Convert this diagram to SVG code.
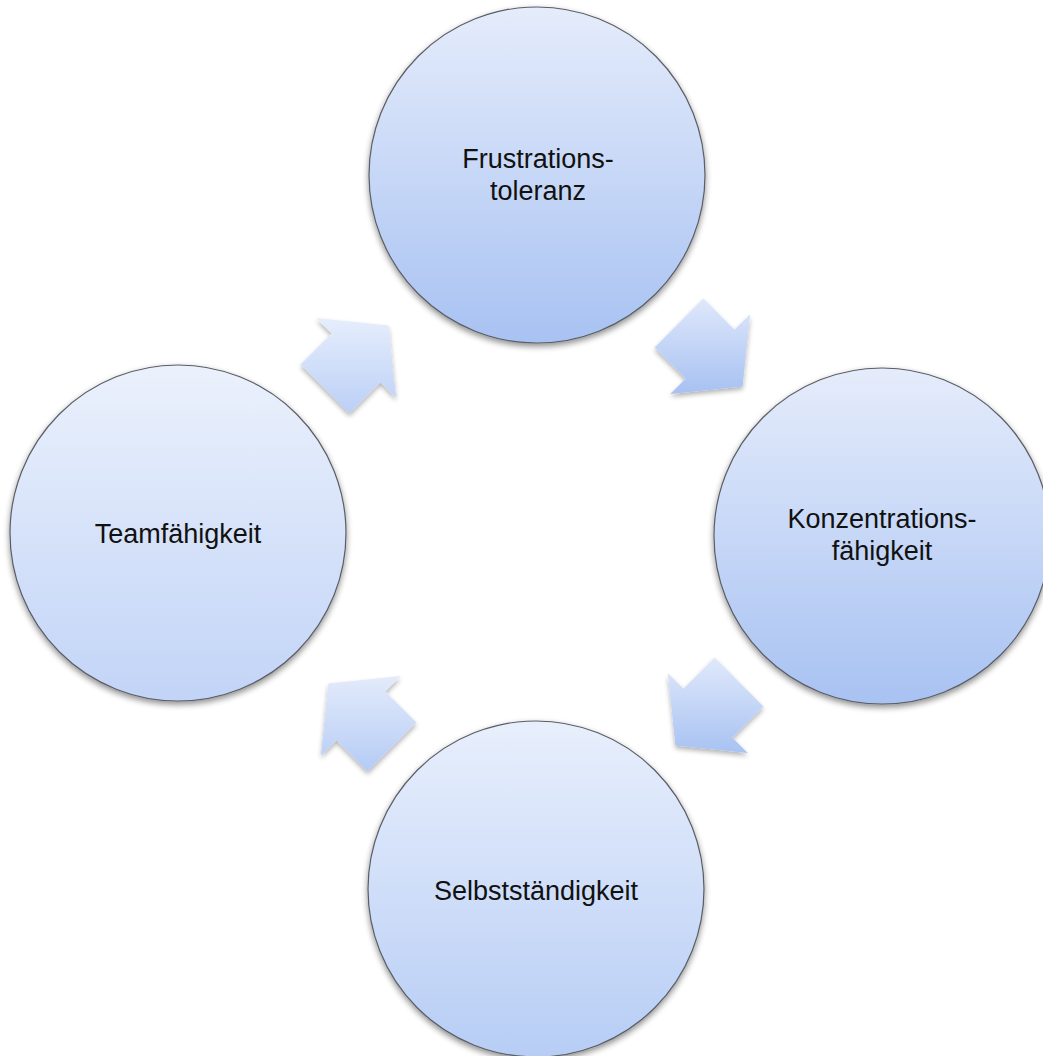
<svg xmlns="http://www.w3.org/2000/svg" width="1043" height="1056" viewBox="0 0 1043 1056">
<defs>
<style>
.node circle{stroke:#5a5e66;stroke-width:1.2;filter:url(#sh)}
.arrow{filter:url(#sha)}
.lbl{font-family:"Liberation Sans",Arial,sans-serif;font-size:27px;fill:#111;text-anchor:middle}
</style>
<filter id="sh" x="-20%" y="-20%" width="140%" height="140%">
<feGaussianBlur in="SourceAlpha" stdDeviation="3"/>
<feOffset dy="3" result="b"/>
<feComponentTransfer><feFuncA type="linear" slope="0.45"/></feComponentTransfer>
<feMerge><feMergeNode/><feMergeNode in="SourceGraphic"/></feMerge>
</filter>
<filter id="sha" x="-20%" y="-20%" width="140%" height="140%">
<feGaussianBlur in="SourceAlpha" stdDeviation="2.5"/>
<feOffset dy="2.5" result="b"/>
<feComponentTransfer><feFuncA type="linear" slope="0.3"/></feComponentTransfer>
<feMerge><feMergeNode/><feMergeNode in="SourceGraphic"/></feMerge>
</filter>
<linearGradient id="gDark" x1="0" y1="0" x2="0" y2="1"><stop offset="0" stop-color="#e5ecfb"/><stop offset="1" stop-color="#a8c2f2"/></linearGradient>
<linearGradient id="gLight" x1="0" y1="0" x2="0" y2="1"><stop offset="0" stop-color="#ebf1fc"/><stop offset="1" stop-color="#c2d4f7"/></linearGradient>
<linearGradient id="gMid" x1="0" y1="0" x2="0" y2="1"><stop offset="0" stop-color="#e8effc"/><stop offset="1" stop-color="#b7cdf5"/></linearGradient>
<linearGradient id="aA" x1="0" y1="0" x2="0" y2="1"><stop offset="0" stop-color="#e6eefc"/><stop offset="1" stop-color="#bbcff6"/></linearGradient>
<linearGradient id="aB" x1="0" y1="0" x2="0" y2="1"><stop offset="0" stop-color="#dfe8fb"/><stop offset="1" stop-color="#a7c1f2"/></linearGradient>
<linearGradient id="aC" x1="0" y1="0" x2="0" y2="1"><stop offset="0" stop-color="#e0e9fb"/><stop offset="1" stop-color="#a8c2f2"/></linearGradient>
<linearGradient id="aD" x1="0" y1="0" x2="0" y2="1"><stop offset="0" stop-color="#e3ebfb"/><stop offset="1" stop-color="#b5cbf5"/></linearGradient>
</defs>
<rect width="1043" height="1056" fill="#ffffff"/>
<g id="connectors">
<path class="arrow" fill="url(#aA)" d="M300.6,364.6 L331.7,333.5 L316.2,317.9 L388.6,325.4 L396.1,397.8 L380.5,382.3 L349.4,413.4 Z"/>
<path class="arrow" fill="url(#aB)" d="M703.4,298.6 L734.5,329.7 L750.1,314.2 L742.6,386.6 L670.2,394.1 L685.7,378.5 L654.6,347.4 Z"/>
<path class="arrow" fill="url(#aC)" d="M763.4,706.4 L732.3,737.5 L747.8,753.1 L675.4,745.6 L667.9,673.2 L683.5,688.7 L714.6,657.6 Z"/>
<path class="arrow" fill="url(#aD)" d="M367.6,771.4 L336.5,740.3 L320.9,755.8 L328.4,683.4 L400.8,675.9 L385.3,691.5 L416.4,722.6 Z"/>
</g>
<g id="node-frustration" class="node">
<circle cx="537" cy="175" r="168" fill="url(#gDark)"/>
<text class="lbl" x="538" y="168">Frustrations-</text>
<text class="lbl" x="538" y="200">toleranz</text>
</g>
<g id="node-konzentration" class="node">
<circle cx="882" cy="536" r="168" fill="url(#gDark)"/>
<text class="lbl" x="882" y="528">Konzentrations-</text>
<text class="lbl" x="882" y="560">fähigkeit</text>
</g>
<g id="node-selbststaendigkeit" class="node">
<circle cx="536" cy="889" r="168" fill="url(#gMid)"/>
<text class="lbl" x="536" y="900">Selbstständigkeit</text>
</g>
<g id="node-teamfaehigkeit" class="node">
<circle cx="178" cy="533" r="168" fill="url(#gLight)"/>
<text class="lbl" x="178" y="543">Teamfähigkeit</text>
</g>
</svg>
